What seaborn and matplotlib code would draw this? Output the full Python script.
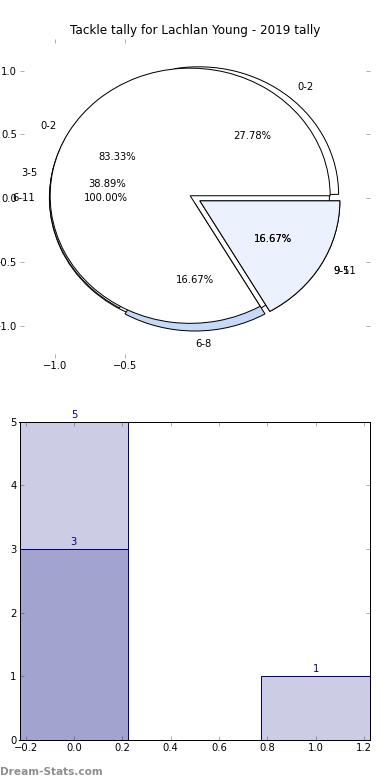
import matplotlib
matplotlib.use("Agg")
import matplotlib.pyplot as plt
import seaborn as sns
import numpy as np
import pandas as pd
from matplotlib.patches import Shadow
from matplotlib.colors import to_rgba

# ---------------- data ----------------
title = "Tackle tally for Lachlan Young - 2019 tally"

pie_a_values = [3]
pie_a_labels = ["6-11"]

pie_c_values = [5, 7, 3, 3]
pie_c_labels = ["0-2", "3-5", "6-8", "9-11"]

pie_b_values = [5, 1]
pie_b_labels = ["0-2", "9-5"]

bar_positions = [0, 1]
bar_totals = [5, 1]
bar_sub_positions = [0]
bar_sub_values = [3]

pie_xticks = [-1.0, -0.5]
pie_yticks = [-1.0, -0.5, 0.0, 0.5, 1.0]
bar_xticks = [-0.2, 0.0, 0.2, 0.4, 0.6, 0.8, 1.0, 1.2]
bar_yticks = [0, 1, 2, 3, 4, 5]

# ---------------- style ----------------
sns.set_style("ticks")
plt.rcParams["font.family"] = ["DejaVu Sans"]
plt.rcParams["axes.unicode_minus"] = True
plt.rcParams["text.color"] = "black"
plt.rcParams["xtick.labelcolor"] = "black"
plt.rcParams["ytick.labelcolor"] = "black"

fig = plt.figure(figsize=(390 / 72, 780 / 72), dpi=72)
ax1 = fig.add_axes([20 / 390, 1 - 357.8 / 780, 350 / 390, 319 / 780])
ax2 = fig.add_axes([19.5 / 390, 40 / 780, 350.5 / 390, 318.3 / 780])

tick_col = "#b0b0b0"


def draw_pie(ax, values, labels, colors):
    wedges, texts, autotexts = ax.pie(
        values, labels=labels, colors=colors,
        explode=[0.04] * len(values), autopct="%1.2f%%",
        startangle=0, labeldistance=1.1, pctdistance=0.6,
        frame=False, normalize=True,
        wedgeprops=dict(edgecolor="black", linewidth=1),
        textprops=dict(fontsize=10, color="black"))
    for w in wedges:
        s = Shadow(w, -2.8, -2.55)
        s.set_zorder(0.9)
        ax.add_patch(s)
    return wedges, texts, autotexts


draw_pie(ax1, pie_a_values, pie_a_labels, ["white"])
_, tc, _ = draw_pie(ax1, pie_c_values, pie_c_labels,
                    ["white", "white", "#c6d9f9", "#ebf2fe"])
draw_pie(ax1, pie_b_values, pie_b_labels, ["white", "#ebf2fe"])
tc[2].set_ha("left")

ax1.set_aspect("auto")
ax1.set_xlim(-1.25, 1.25)
ax1.set_ylim(-1.25, 1.25)
ax1.set_xticks(pie_xticks)
ax1.set_yticks(pie_yticks)
ax1.tick_params(direction="in", length=4, width=1, color=tick_col,
                labelcolor="black", top=True, right=True, labelsize=10, pad=3)
ax1.set_title(title, fontsize=12, pad=5, color="black")

# ---------------- bars ----------------
df_tot = pd.DataFrame({"pos": bar_positions, "val": bar_totals})
df_sub = pd.DataFrame({"pos": bar_sub_positions, "val": bar_sub_values})
sns.barplot(data=df_tot, x="pos", y="val", order=[0, 1], width=0.45,
            color="navy", saturation=1, errorbar=None, ax=ax2)
sns.barplot(data=df_sub, x="pos", y="val", order=[0, 1], width=0.45,
            color="navy", saturation=1, errorbar=None, ax=ax2)
for p in ax2.patches:
    p.set_facecolor(to_rgba("navy", 0.2))
    p.set_edgecolor("navy")
    p.set_linewidth(1)
for c in ax2.containers:
    ax2.bar_label(c, color="navy", fontsize=10, padding=2)

ax2.set_xlim(-0.225, 1.225)
ax2.set_ylim(0, 5)
ax2.set_xticks(bar_xticks)
ax2.set_xticklabels([f"{t:.1f}".replace("-", "\u2212") for t in bar_xticks])
ax2.set_yticks(bar_yticks)
ax2.set_yticklabels([str(t) for t in bar_yticks])
ax2.set_xlabel("")
ax2.set_ylabel("")
for sp in ax2.spines.values():
    sp.set_visible(True)
    sp.set_color("black")
    sp.set_linewidth(1)
ax2.tick_params(direction="in", length=4, width=1, color=tick_col,
                labelcolor="black", top=True, right=True, labelsize=10, pad=3)

fig.text(0.0, 3 / 780, "Dream-Stats.com", fontsize=10.5, fontweight="bold",
         color="#8e8e8e", ha="left", va="bottom")

fig.savefig("out.png", dpi=72)
